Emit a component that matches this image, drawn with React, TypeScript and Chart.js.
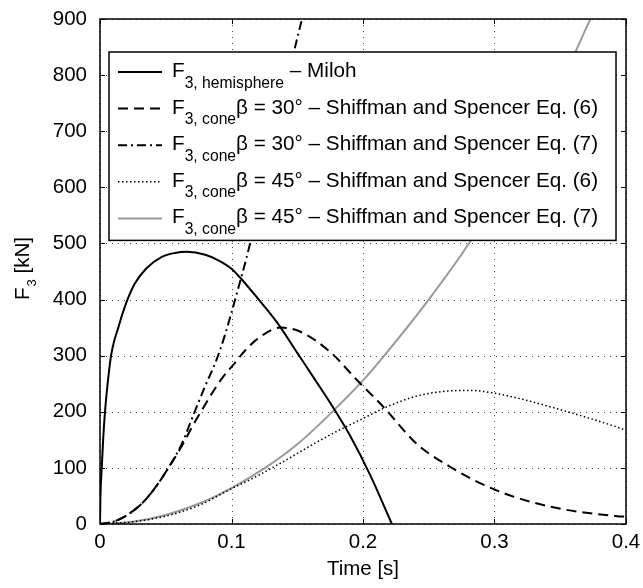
import React, { useEffect, useRef } from 'react';
import { Chart, registerables } from 'chart.js';

Chart.register(...registerables);

const FONT = '"Liberation Sans", Arial, Helvetica, sans-serif';

// ---- axis ticks ----
const xTicks = [0, 0.1, 0.2, 0.3, 0.4];
const xTickLabels = ['0', '0.1', '0.2', '0.3', '0.4'];
const yTicks = [0, 100, 200, 300, 400, 500, 600, 700, 800, 900];
const yTickLabels = ['0', '100', '200', '300', '400', '500', '600', '700', '800', '900'];

const xTitle = 'Time [s]';
const yTitleMain = 'F';
const yTitleSub = '3';
const yTitleRest = ' [kN]';

// ---- series data (time [s], force [kN]) ----
const tHemisphere = [0, 0.0003, 0.0013, 0.0025, 0.0038, 0.0058, 0.0084, 0.011, 0.0139, 0.017, 0.0209, 0.0266, 0.035, 0.047, 0.057, 0.066, 0.08, 0.09, 0.1, 0.107, 0.12, 0.135, 0.15, 0.165, 0.178, 0.19, 0.2053, 0.222];
const fHemisphere = [0, 45, 100, 155, 200, 250, 300, 328, 350, 374, 400, 429, 455, 476, 483, 485, 480, 470, 455, 438, 402, 358, 305, 252, 205, 158, 88, 0];

const tCone30Eq6 = [0, 0.01, 0.02, 0.032, 0.0424, 0.052, 0.062, 0.07, 0.0767, 0.0852, 0.0929, 0.1018, 0.1107, 0.1209, 0.1374, 0.152, 0.1749, 0.1952, 0.2154, 0.2408, 0.2662, 0.3004, 0.3422, 0.3929, 0.4];
const fCone30Eq6 = [0, 4, 15, 37, 66, 100, 138, 173, 200, 233, 260, 285, 310, 332, 350, 343, 307, 257, 209, 143, 102, 61, 31, 14, 13];

const tCone30Eq7 = [0, 0.01, 0.02, 0.032, 0.0424, 0.052, 0.062, 0.072, 0.0786, 0.0913, 0.107, 0.1148, 0.1475, 0.1536, 0.16];
const fCone30Eq7 = [0, 4, 15, 37, 66, 100, 142, 200, 238, 310, 436, 506, 842, 900, 965];

const tCone45Eq6 = [0, 0.025, 0.05, 0.075, 0.1, 0.115, 0.137, 0.162, 0.1825, 0.2, 0.2154, 0.2408, 0.26, 0.2814, 0.3004, 0.32, 0.3422, 0.37, 0.3929, 0.4];
const fCone45Eq6 = [0, 4, 14, 33, 63, 80, 108, 142, 168, 188, 206, 228, 236, 238, 233, 223, 209, 190, 173, 167];

const tCone45Eq7 = [0, 0.025, 0.05, 0.075, 0.1, 0.125, 0.15, 0.178, 0.2, 0.2154, 0.25, 0.2814, 0.3, 0.33, 0.3612, 0.3726, 0.385];
const fCone45Eq7 = [0, 4, 16, 36, 64, 99, 142, 203, 256, 298, 400, 503, 575, 697, 840, 898, 950];

// ---- legend labels (main letter, subscript, rest) ----
const seriesMain = ['F', 'F', 'F', 'F', 'F'];
const seriesSub = ['3, hemisphere', '3, cone', '3, cone', '3, cone', '3, cone'];
const seriesRest = [
  ' \u2013 Miloh',
  '\u03b2 = 30\u00b0 \u2013 Shiffman and Spencer Eq. (6)',
  '\u03b2 = 30\u00b0 \u2013 Shiffman and Spencer Eq. (7)',
  '\u03b2 = 45\u00b0 \u2013 Shiffman and Spencer Eq. (6)',
  '\u03b2 = 45\u00b0 \u2013 Shiffman and Spencer Eq. (7)',
];

const seriesT = [tHemisphere, tCone30Eq6, tCone30Eq7, tCone45Eq6, tCone45Eq7];
const seriesF = [fHemisphere, fCone30Eq6, fCone30Eq7, fCone45Eq6, fCone45Eq7];

// ---- styles ----
const seriesStyle = [
  { color: '#000000', width: 2, dash: [] as number[] },
  { color: '#000000', width: 2, dash: [10, 6] },
  { color: '#000000', width: 2, dash: [9, 4, 2, 4] },
  { color: '#000000', width: 1.5, dash: [1.5, 2.5] },
  { color: '#999999', width: 2, dash: [] as number[] },
];

const TICK_SIZE = 20.5;
const LEG_SIZE = 20.7;
const LEG_SUB = 15.7;

const matlabPlugin = {
  id: 'matlabDecor',
  beforeDatasetsDraw(chart: any) {
    const { ctx, chartArea: a } = chart;
    const xs = chart.scales.x;
    const ys = chart.scales.y;
    ctx.save();
    ctx.strokeStyle = 'rgba(0,0,0,0.7)';
    ctx.lineWidth = 1;
    ctx.setLineDash([1, 5]);
    xTicks.forEach((v) => {
      const px = Math.round(xs.getPixelForValue(v)) + 0.5;
      ctx.beginPath();
      ctx.moveTo(px, a.bottom);
      ctx.lineTo(px, a.top);
      ctx.stroke();
    });
    yTicks.forEach((v) => {
      const py = Math.round(ys.getPixelForValue(v)) + 0.5;
      ctx.beginPath();
      ctx.moveTo(a.left, py);
      ctx.lineTo(a.right, py);
      ctx.stroke();
    });
    ctx.restore();
  },
  afterDatasetsDraw(chart: any) {
    const { ctx, chartArea: a } = chart;
    const xs = chart.scales.x;
    const ys = chart.scales.y;
    ctx.save();

    // ---- legend ----
    const legLeft = a.left + 9;
    const legTop = a.top + 33;
    const rowH = 36.6;
    const firstBase = 25;
    const sampleX0 = legLeft + 9;
    const sampleX1 = sampleX0 + 44;
    const textX = sampleX1 + 10;
    let maxW = 0;
    for (let i = 0; i < seriesMain.length; i++) {
      ctx.font = `${LEG_SIZE}px ${FONT}`;
      let w = ctx.measureText(seriesMain[i]).width;
      ctx.font = `${LEG_SUB}px ${FONT}`;
      w += ctx.measureText(seriesSub[i]).width;
      ctx.font = `${LEG_SIZE}px ${FONT}`;
      w += ctx.measureText(seriesRest[i]).width;
      maxW = Math.max(maxW, w);
    }
    const legW = textX - legLeft + maxW + 18;
    const legH = firstBase + rowH * (seriesMain.length - 1) + 17;
    ctx.fillStyle = '#ffffff';
    ctx.fillRect(legLeft, legTop, legW, legH);
    ctx.strokeStyle = '#000000';
    ctx.lineWidth = 1.5;
    ctx.setLineDash([]);
    ctx.strokeRect(legLeft, legTop, legW, legH);

    for (let i = 0; i < seriesMain.length; i++) {
      const base = legTop + firstBase + rowH * i;
      const st = seriesStyle[i];
      ctx.beginPath();
      ctx.strokeStyle = st.color;
      ctx.lineWidth = st.width;
      ctx.setLineDash(st.dash);
      ctx.moveTo(sampleX0, base - 5);
      ctx.lineTo(sampleX1, base - 5);
      ctx.stroke();
      ctx.setLineDash([]);

      ctx.fillStyle = '#000000';
      ctx.textAlign = 'left';
      ctx.textBaseline = 'alphabetic';
      let x = textX;
      ctx.font = `${LEG_SIZE}px ${FONT}`;
      ctx.fillText(seriesMain[i], x, base);
      x += ctx.measureText(seriesMain[i]).width;
      ctx.font = `${LEG_SUB}px ${FONT}`;
      ctx.fillText(seriesSub[i], x, base + 10.5);
      x += ctx.measureText(seriesSub[i]).width;
      ctx.font = `${LEG_SIZE}px ${FONT}`;
      ctx.fillText(seriesRest[i], x, base);
    }

    // ---- axes box ----
    ctx.strokeStyle = '#000000';
    ctx.lineWidth = 1.5;
    ctx.setLineDash([]);
    ctx.strokeRect(a.left, a.top, a.right - a.left, a.bottom - a.top);

    // ---- inward ticks ----
    ctx.lineWidth = 1;
    ctx.beginPath();
    xTicks.forEach((v) => {
      const px = Math.round(xs.getPixelForValue(v)) + 0.5;
      ctx.moveTo(px, a.bottom);
      ctx.lineTo(px, a.bottom - 5);
      ctx.moveTo(px, a.top);
      ctx.lineTo(px, a.top + 5);
    });
    yTicks.forEach((v) => {
      const py = Math.round(ys.getPixelForValue(v)) + 0.5;
      ctx.moveTo(a.left, py);
      ctx.lineTo(a.left + 5, py);
      ctx.moveTo(a.right, py);
      ctx.lineTo(a.right - 5, py);
    });
    ctx.stroke();

    // ---- axis titles ----
    ctx.fillStyle = '#000000';
    ctx.font = `${TICK_SIZE}px ${FONT}`;
    ctx.textAlign = 'center';
    ctx.textBaseline = 'alphabetic';
    ctx.fillText(xTitle, (a.left + a.right) / 2, 575);

    ctx.translate(29, (a.top + a.bottom) / 2 - 3);
    ctx.rotate(-Math.PI / 2);
    ctx.textAlign = 'left';
    ctx.font = `${TICK_SIZE}px ${FONT}`;
    const wMain = ctx.measureText(yTitleMain).width;
    const wRest = ctx.measureText(yTitleRest).width;
    ctx.font = `13px ${FONT}`;
    const wSub = ctx.measureText(yTitleSub).width;
    let yx = -(wMain + wSub + wRest + 1) / 2;
    ctx.font = `${TICK_SIZE}px ${FONT}`;
    ctx.fillText(yTitleMain, yx, 0);
    yx += wMain + 1;
    ctx.font = `13px ${FONT}`;
    ctx.fillText(yTitleSub, yx, 7);
    yx += wSub;
    ctx.font = `${TICK_SIZE}px ${FONT}`;
    ctx.fillText(yTitleRest, yx, 0);

    ctx.restore();
  },
};

export default function App() {
  const canvasRef = useRef<HTMLCanvasElement | null>(null);

  useEffect(() => {
    document.body.style.margin = '0';
    const canvas = canvasRef.current;
    if (!canvas) return;
    const datasets = seriesT.map((ts, i) => ({
      label: seriesMain[i] + seriesSub[i] + seriesRest[i],
      data: ts.map((t, j) => ({ x: t, y: seriesF[i][j] })),
      borderColor: seriesStyle[i].color,
      backgroundColor: seriesStyle[i].color,
      borderWidth: seriesStyle[i].width,
      borderDash: seriesStyle[i].dash,
      pointRadius: 0,
      fill: false,
      cubicInterpolationMode: 'monotone' as const,
    }));

    const chart = new Chart(canvas, {
      type: 'line',
      data: { datasets },
      options: {
        responsive: false,
        animation: false,
        devicePixelRatio: 1,
        layout: { padding: { top: 19, right: 17, left: 0, bottom: 0 } },
        plugins: { legend: { display: false }, tooltip: { enabled: false } },
        scales: {
          x: {
            type: 'linear',
            min: 0,
            max: 0.4,
            afterBuildTicks: (s: any) => {
              s.ticks = xTicks.map((v) => ({ value: v }));
            },
            afterFit: (s: any) => {
              s.height = 64;
              s.paddingLeft = 0;
              s.paddingRight = 0;
            },
            ticks: {
              callback: (_v: any, i: number) => xTickLabels[i],
              font: { family: FONT, size: TICK_SIZE },
              color: '#000000',
              padding: 6,
              maxRotation: 0,
              autoSkip: false,
            },
            grid: { display: false, drawTicks: false },
            border: { display: false },
          },
          y: {
            type: 'linear',
            min: 0,
            max: 900,
            afterBuildTicks: (s: any) => {
              s.ticks = yTicks.map((v) => ({ value: v }));
            },
            afterFit: (s: any) => {
              s.width = 100;
              s.paddingTop = 0;
              s.paddingBottom = 0;
            },
            ticks: {
              callback: (_v: any, i: number) => yTickLabels[i],
              font: { family: FONT, size: TICK_SIZE },
              color: '#000000',
              padding: 13,
              autoSkip: false,
            },
            grid: { display: false, drawTicks: false },
            border: { display: false },
          },
        },
      },
      plugins: [matlabPlugin],
    });
    return () => chart.destroy();
  }, []);

  return (
    <div style={{ width: 643, height: 588 }}>
      <canvas ref={canvasRef} width={643} height={588} style={{ display: 'block' }} />
    </div>
  );
}
